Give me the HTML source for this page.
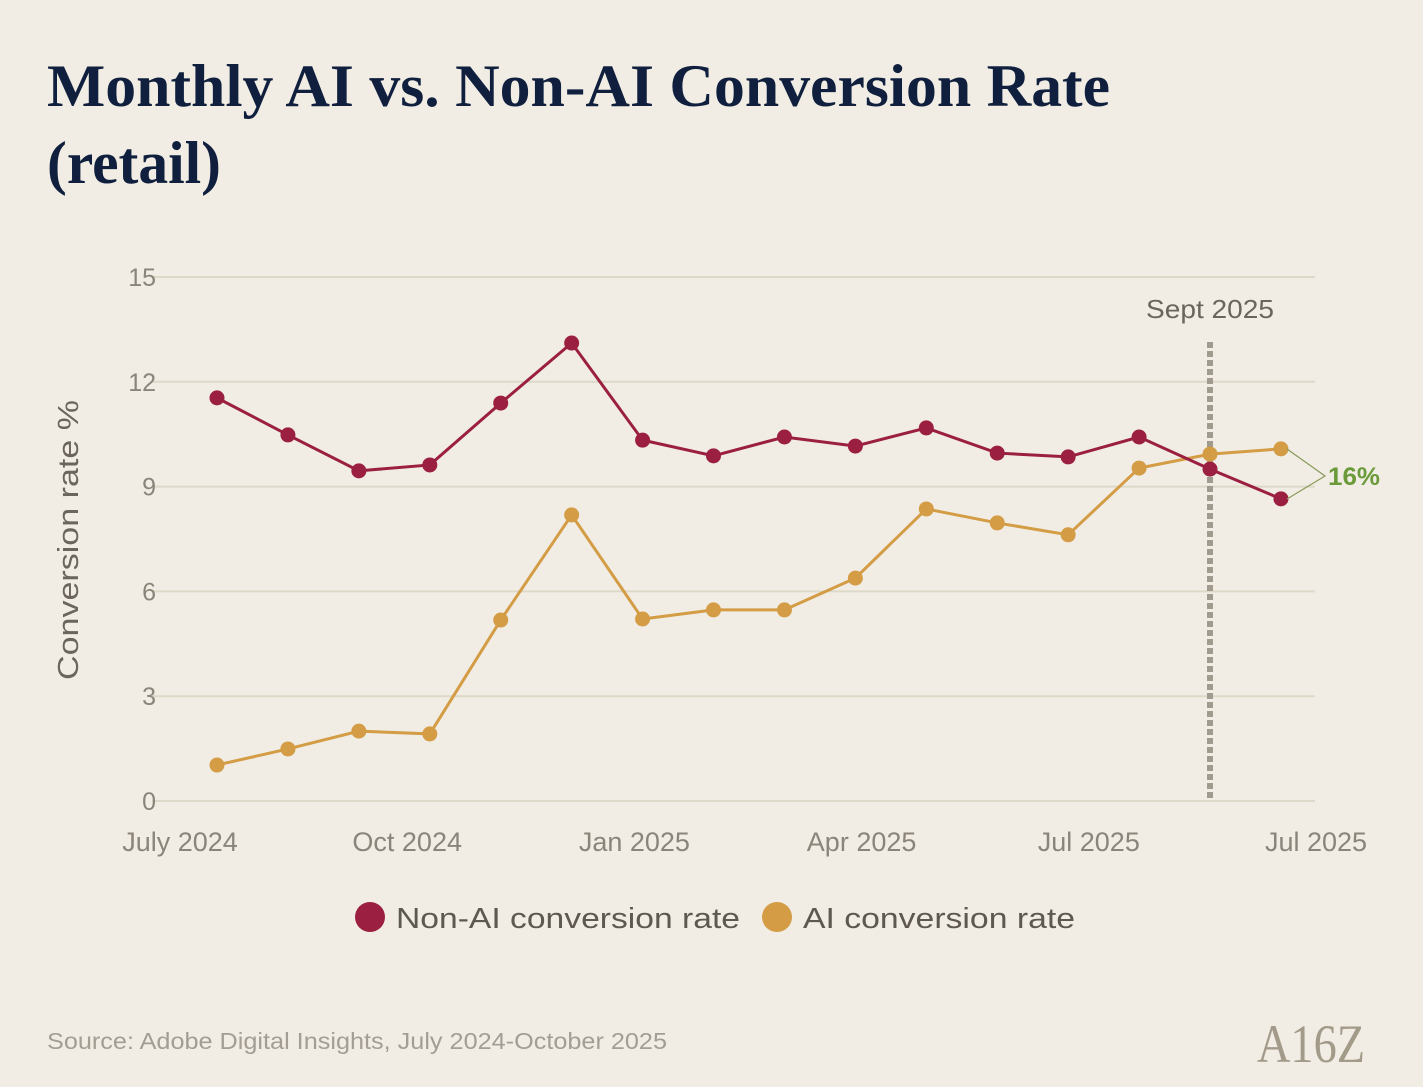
<!DOCTYPE html>
<html><head><meta charset="utf-8"><style>
body{margin:0;background:#f1ede4;}
svg{display:block}
</style></head><body>
<svg width="1423" height="1087" viewBox="0 0 1423 1087" xmlns="http://www.w3.org/2000/svg">
<rect width="1423" height="1087" fill="#f1ede4"/>
<text x="47" y="106" textLength="1063" lengthAdjust="spacingAndGlyphs" font-family="Liberation Serif, serif" font-weight="bold" font-size="60" fill="#0f1f3d">Monthly AI vs. Non-AI Conversion Rate</text>
<text x="47" y="183" textLength="174" lengthAdjust="spacingAndGlyphs" font-family="Liberation Serif, serif" font-weight="bold" font-size="60" fill="#0f1f3d">(retail)</text>
<g id="grid"></g>
<g id="xlabels"></g>
<text transform="translate(78,540) rotate(-90)" text-anchor="middle" textLength="280" lengthAdjust="spacingAndGlyphs" font-family="Liberation Sans, sans-serif" font-size="29" fill="#6b655d">Conversion rate %</text>
<line x1="1210" y1="342" x2="1210" y2="801" stroke="#a09a8f" stroke-width="6" stroke-dasharray="6,3"/>
<text x="1210" y="318" text-anchor="middle" textLength="128" lengthAdjust="spacingAndGlyphs" font-family="Liberation Sans, sans-serif" font-size="26" fill="#6b655d">Sept 2025</text>
<g id="series"></g>
<polyline points="1287,449 1325,476 1287,499" fill="none" stroke="#8a9a5a" stroke-width="1.2"/>
<text x="1328" y="485" textLength="52" lengthAdjust="spacingAndGlyphs" font-family="Liberation Sans, sans-serif" font-weight="bold" font-size="25" fill="#6a9a3a">16%</text>
<circle cx="370" cy="917" r="15" fill="#9b1f40"/>
<text x="396" y="928" textLength="344" lengthAdjust="spacingAndGlyphs" font-family="Liberation Sans, sans-serif" font-size="29" fill="#5e5850">Non-AI conversion rate</text>
<circle cx="777" cy="917" r="15" fill="#d39c45"/>
<text x="803" y="928" textLength="272" lengthAdjust="spacingAndGlyphs" font-family="Liberation Sans, sans-serif" font-size="29" fill="#5e5850">AI conversion rate</text>
<text x="47" y="1049" textLength="620" lengthAdjust="spacingAndGlyphs" font-family="Liberation Sans, sans-serif" font-size="23" fill="#a39d94">Source: Adobe Digital Insights, July 2024-October 2025</text>
<text x="1257" y="1062" textLength="108" lengthAdjust="spacingAndGlyphs" font-family="Liberation Serif, serif" font-size="54" fill="#a39a8a">A16Z</text>
</svg>
<script>
const yTicks=[0,3,6,9,12,15];
const xTickLabels=["July 2024","Oct 2024","Jan 2025","Apr 2025","Jul 2025","Jul 2025"];
const nonAI=[11.54,10.48,9.45,9.62,11.39,13.11,10.33,9.88,10.42,10.16,10.68,9.96,9.85,10.42,9.50,8.65];
const aiRate=[1.03,1.49,2.0,1.92,5.18,8.19,5.21,5.47,5.47,6.38,8.36,7.96,7.62,9.53,9.93,10.08];
const NS="http://www.w3.org/2000/svg";
function y(v){return 801-v*(524/15);}
function x(i){return 217+i*70.93;}
function xl(i){return 180+i*227.2;}
function mk(t,a,p){const e=document.createElementNS(NS,t);for(const k in a)e.setAttribute(k,a[k]);p.appendChild(e);return e;}
const grid=document.getElementById('grid');
yTicks.forEach(v=>{
  const l=mk('line',{x1:152,x2:1315,y1:y(v),y2:y(v),stroke:'#ddd8c8','stroke-width':2},grid);
  
  
  const t=mk('text',{x:156,y:y(v)+9,'text-anchor':'end','font-family':'Liberation Sans, sans-serif','font-size':25,fill:'#8a847a'},grid);
  t.textContent=v;
  
  
});
const xg=document.getElementById('xlabels');
xTickLabels.forEach((s,i)=>{
  const t=mk('text',{x:xl(i),y:851,'text-anchor':'middle','font-family':'Liberation Sans, sans-serif','font-size':27,fill:'#8a847a'},xg);
  t.textContent=s;
  
  
});
const sg=document.getElementById('series');
[[aiRate,'#d39c45','ai'],[nonAI,'#9b1f40','non-ai']].forEach(([d,c,n])=>{
  const pl=mk('polyline',{points:d.map((v,i)=>x(i)+','+y(v)).join(' '),fill:'none',stroke:c,'stroke-width':3},sg);
  
  
  d.forEach((v,i)=>{
    const ci=mk('circle',{cx:x(i),cy:y(v),r:7.5,fill:c},sg);
    
    
  });
});
</script>
</body></html>
